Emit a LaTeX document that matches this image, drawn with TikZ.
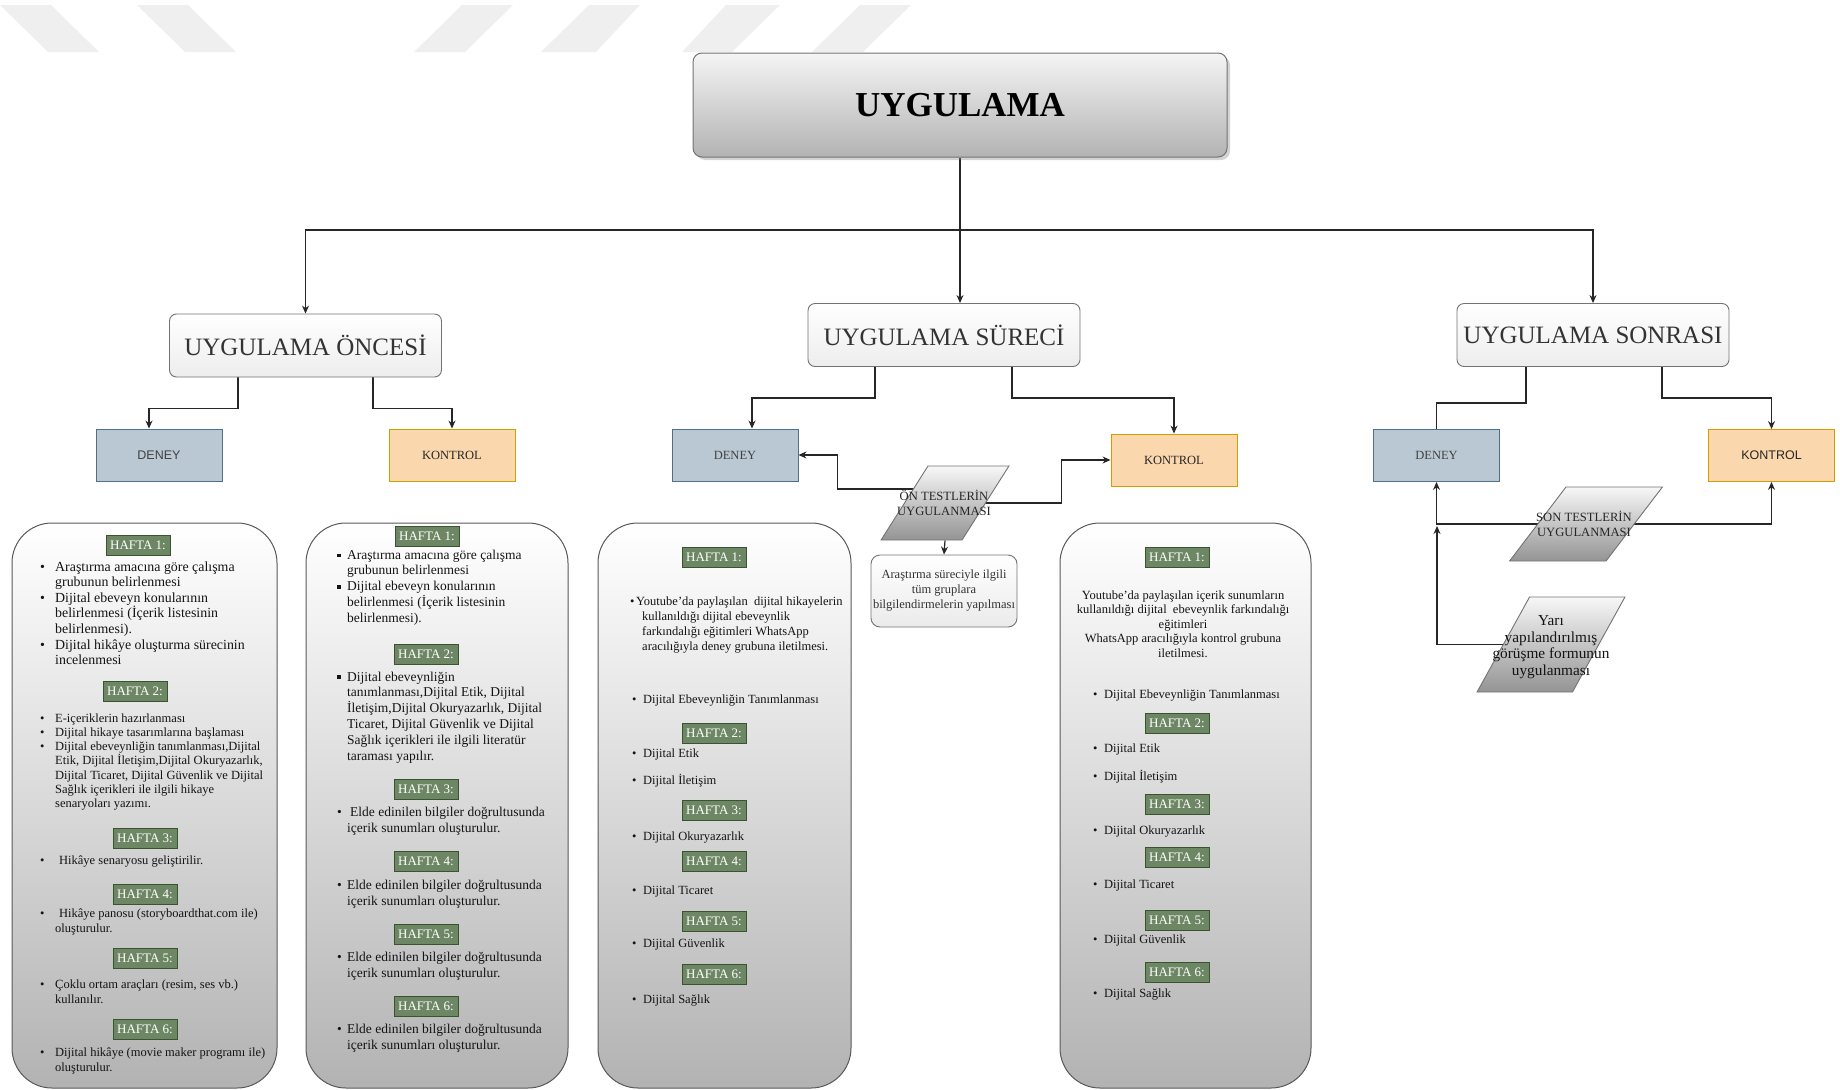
\documentclass[tikz,border=0pt]{standalone}
\usepackage{fontspec}
\setmainfont{Liberation Serif}
\newfontfamily\sansfont{Liberation Sans}
\usetikzlibrary{shapes.geometric,arrows.meta,shadows,backgrounds}
\definecolor{dgf}{HTML}{BAC8D3}
\definecolor{dgd}{HTML}{4F6F8A}
\definecolor{kof}{HTML}{FAD7AC}
\definecolor{kod}{HTML}{D79B00}
\definecolor{hg}{HTML}{6D8764}
\definecolor{hgd}{HTML}{3A5431}
\definecolor{wmc}{HTML}{EFEFEF}
\newcommand\fs[2]{\fontsize{#1}{#2}\selectfont}
\newcommand\bu{\makebox[15pt][l]{\textbullet}}
\newcommand\ind{\hspace*{15pt}}
\newcommand\sqb{\makebox[10pt][l]{\raisebox{2pt}{\rule{3.6pt}{3.6pt}}}}
\newcommand\bus{\makebox[11pt][l]{\textbullet}}
\newcommand\inds{\hspace*{11pt}}
\begin{document}
\begin{tikzpicture}[x=1pt,y=-1pt,
  conn/.style={line width=1.2pt, draw=black!85},
  arr/.style={conn, -{Stealth[length=8pt,width=7pt]}},
  topbox/.style={draw=black!55, line width=1pt, rounded corners=9pt, top color=black!4, bottom color=black!30,
     minimum width=534, minimum height=104, font=\bfseries\fs{35}{40},
     drop shadow={opacity=0.35,shadow xshift=3pt,shadow yshift=-3pt}},
  phase/.style={draw=black!55, line width=0.9pt, rounded corners=7pt, top color=white, bottom color=black!7,
     minimum width=272, minimum height=63, font=\fs{25}{30}, text=black!80},
  grpd/.style={draw=dgd, fill=dgf, line width=0.9pt, minimum width=126, minimum height=52, text=black!75},
  grpk/.style={draw=kod, fill=kof, line width=0.9pt, minimum width=126, minimum height=52, text=black!85},
  bigbox/.style={draw=black!65, line width=1pt, rounded corners=40pt, top color=white, bottom color=black!30,
     minimum width=#1, minimum height=565, inner sep=0pt},
  hafta/.style={draw=hgd, fill=hg, text=white, font=\fs{13}{15}, minimum width=64, minimum height=20, inner sep=1.5pt},
  txt/.style={anchor=base west, align=left, inner sep=0pt, text=black!92},
  ctxt/.style={anchor=base, align=center, inner sep=0pt, text=black!92},
  para/.style={trapezium, trapezium left angle=#1, trapezium right angle=180-#1, trapezium stretches=true,
     draw=black!55, line width=0.9pt, top color=black!3, bottom color=black!42, inner sep=2pt},
  note/.style={draw=black!55, line width=0.9pt, rounded corners=9pt, top color=white, bottom color=black!8,
     minimum width=146, minimum height=72, align=center, inner sep=1pt, font=\fs{12.5}{15}, text=black!80},
  wm/.style={fill=wmc}
]
\useasboundingbox (0,0) rectangle (1840,1090);

% top watermark stripes
\begin{scope}[on background layer]
\fill[wm] (0,5) -- (51,5) -- (99,52) -- (48,52) -- cycle;
\fill[wm] (137,5) -- (188,5) -- (236,52) -- (185,52) -- cycle;
\fill[wm] (462,5) -- (513,5) -- (465,52) -- (414,52) -- cycle;
\fill[wm] (589,5) -- (640,5) -- (596,52) -- (541,52) -- cycle;
\fill[wm] (726,5) -- (780,5) -- (732,52) -- (682,52) -- cycle;
\fill[wm] (860,5) -- (911,5) -- (863,52) -- (812,52) -- cycle;
\end{scope}

% main boxes
\node[topbox] (top) at (960,105) {UYGULAMA};
\node[phase] (once) at (305.5,345.5) {UYGULAMA ÖNCESİ};
\node[phase] (surec) at (944,335) {UYGULAMA SÜRECİ};
\node[phase] (sonra) at (1593,335) {UYGULAMA SONRASI};

\node[grpd, font=\sansfont\fs{12.5}{14}] (deney1) at (159,455) {DENEY};
\node[grpk, draw=black!20!kod!70!yellow, font=\fs{12.5}{14}] (kontrol1) at (452,455) {KONTROL};
\node[grpd, font=\fs{12.5}{14}] (deney2) at (735,455) {DENEY};
\node[grpk, font=\fs{12.5}{14}] (kontrol2) at (1174,460) {KONTROL};
\node[grpd, font=\fs{12.5}{14}] (deney3) at (1436.5,455.5) {DENEY};
\node[grpk, font=\sansfont\fs{12.5}{14}] (kontrol3) at (1771.5,455.5) {KONTROL};

% parallelograms and note
\node[para=71, minimum width=128, minimum height=74] (ontest) at (945,503) {\strut};
\node[ctxt, font=\fs{12.6}{15}, text=black!85] (ontestt) at (944,515) {ÖN TESTLERİN\\UYGULANMASI};
\node[note] (bilgi) at (944,591) {Araştırma süreciyle ilgili\\tüm gruplara\\bilgilendirmelerin yapılması};
\node[para=70.6, minimum width=153, minimum height=74] (sontest) at (1586,524) {\strut};
\node[ctxt, font=\fs{12.6}{15}, text=black!85] (sontestt) at (1584,536) {SON TESTLERİN\\UYGULANMASI};
\node[para=73, minimum width=148, minimum height=95] (yari) at (1551,644.5) {\strut};
\node[ctxt, font=\fs{15.3}{16.7}] (yarit) at (1551,675.5) {Yarı\\yapılandırılmış\\görüşme formunun\\uygulanması};

% content boxes
\node[bigbox=265] (box1) at (144.5,805.5) {};
\node[bigbox=262] (box2) at (437,805.5) {};
\node[bigbox=253] (box3) at (724.5,805.5) {};
\node[bigbox=251] (box4) at (1185.5,805.5) {};

% ---- box 1
\node[hafta] (b1h1) at (138,545) {HAFTA 1:};
\node[txt, font=\fs{13.9}{15.6}] (b1t1) at (40,664.6) {\bu Araştırma amacına göre çalışma\\\ind grubunun belirlenmesi\\\bu Dijital ebeveyn konularının\\\ind belirlenmesi (İçerik listesinin\\\ind belirlenmesi).\\\bu Dijital hikâye oluşturma sürecinin\\\ind incelenmesi};
\node[hafta] (b1h2) at (135,691) {HAFTA 2:};
\node[txt, font=\fs{12.5}{14.3}] (b1t2) at (40,807.8) {\bu E-içeriklerin hazırlanması\\\bu Dijital hikaye tasarımlarına başlaması\\\bu Dijital ebeveynliğin tanımlanması,Dijital\\\ind Etik, Dijital İletişim,Dijital Okuryazarlık,\\\ind Dijital Ticaret, Dijital Güvenlik ve Dijital\\\ind Sağlık içerikleri ile ilgili hikaye\\\ind senaryoları yazımı.};
\node[hafta] (b1h3) at (145,838) {HAFTA 3:};
\node[txt, font=\fs{12.5}{14.5}] (b1t3) at (40,864) {\bu\hspace{4pt}Hikâye senaryosu geliştirilir.};
\node[hafta] (b1h4) at (145,894) {HAFTA 4:};
\node[txt, font=\fs{12.5}{14.5}] (b1t4) at (40,932) {\bu\hspace{4pt}Hikâye panosu (storyboardthat.com ile)\\\ind oluşturulur.};
\node[hafta] (b1h5) at (145,958) {HAFTA 5:};
\node[txt, font=\fs{12.5}{14.5}] (b1t5) at (40,1003) {\bu Çoklu ortam araçları (resim, ses vb.)\\\ind kullanılır.};
\node[hafta] (b1h6) at (145,1029) {HAFTA 6:};
\node[txt, font=\fs{12.5}{14.5}] (b1t6) at (40,1071) {\bu Dijital hikâye (movie maker programı ile)\\\ind oluşturulur.};

% ---- box 2
\node[hafta] (b2h1) at (427,536) {HAFTA 1:};
\node[txt, font=\fs{13.5}{15.7}] (b2t1) at (337,622) {\sqb Araştırma amacına göre çalışma\\\hspace*{10pt}grubunun belirlenmesi\\\sqb Dijital ebeveyn konularının\\\hspace*{10pt}belirlenmesi (İçerik listesinin\\\hspace*{10pt}belirlenmesi).};
\node[hafta] (b2h2) at (426,654) {HAFTA 2:};
\node[txt, font=\fs{13.5}{15.8}] (b2t2) at (337,760) {\sqb Dijital ebeveynliğin\\\hspace*{10pt}tanımlanması,Dijital Etik, Dijital\\\hspace*{10pt}İletişim,Dijital Okuryazarlık, Dijital\\\hspace*{10pt}Ticaret, Dijital Güvenlik ve Dijital\\\hspace*{10pt}Sağlık içerikleri ile ilgili literatür\\\hspace*{10pt}taraması yapılır.};
\node[hafta] (b2h3) at (426,789) {HAFTA 3:};
\node[txt, font=\fs{13.5}{15.8}] (b2t3) at (337,832) {\makebox[10pt][l]{\textbullet}\hspace{3pt}Elde edinilen bilgiler doğrultusunda\\\hspace*{10pt}içerik sunumları oluşturulur.};
\node[hafta] (b2h4) at (426,861) {HAFTA 4:};
\node[txt, font=\fs{13.5}{15.8}] (b2t4) at (337,905) {\makebox[10pt][l]{\textbullet}Elde edinilen bilgiler doğrultusunda\\\hspace*{10pt}içerik sunumları oluşturulur.};
\node[hafta] (b2h5) at (426,934) {HAFTA 5:};
\node[txt, font=\fs{13.5}{15.8}] (b2t5) at (337,977) {\makebox[10pt][l]{\textbullet}Elde edinilen bilgiler doğrultusunda\\\hspace*{10pt}içerik sunumları oluşturulur.};
\node[hafta] (b2h6) at (426,1006) {HAFTA 6:};
\node[txt, font=\fs{13.5}{15.8}] (b2t6) at (337,1049) {\makebox[10pt][l]{\textbullet}Elde edinilen bilgiler doğrultusunda\\\hspace*{10pt}içerik sunumları oluşturulur.};

% ---- box 3
\node[hafta] (b3h1) at (714,557) {HAFTA 1:};
\node[txt, font=\fs{12.5}{15}] (b3t1) at (630,650) {\makebox[6pt][l]{\textbullet}Youtube'da paylaşılan\ \ dijital hikayelerin\\\hspace*{12pt}kullanıldığı dijital ebeveynlik\\\hspace*{12pt}farkındalığı eğitimleri WhatsApp\\\hspace*{12pt}aracılığıyla deney grubuna iletilmesi.};
\node[txt, font=\fs{12.5}{15}] (b3t1b) at (632,703) {\bus Dijital Ebeveynliğin Tanımlanması};
\node[hafta] (b3h2) at (714,733) {HAFTA 2:};
\node[txt, font=\fs{12.5}{15}] (b3t2a) at (632,757) {\bus Dijital Etik};
\node[txt, font=\fs{12.5}{15}] (b3t2b) at (632,784) {\bus Dijital İletişim};
\node[hafta] (b3h3) at (714,810) {HAFTA 3:};
\node[txt, font=\fs{12.5}{15}] (b3t3) at (632,840) {\bus Dijital Okuryazarlık};
\node[hafta] (b3h4) at (714,861) {HAFTA 4:};
\node[txt, font=\fs{12.5}{15}] (b3t4) at (632,894) {\bus Dijital Ticaret};
\node[hafta] (b3h5) at (714,921) {HAFTA 5:};
\node[txt, font=\fs{12.5}{15}] (b3t5) at (632,947) {\bus Dijital Güvenlik};
\node[hafta] (b3h6) at (714,974) {HAFTA 6:};
\node[txt, font=\fs{12.5}{15}] (b3t6) at (632,1003) {\bus Dijital Sağlık};

% ---- box 4
\node[hafta] (b4h1) at (1177,557) {HAFTA 1:};
\node[ctxt, font=\fs{12.5}{14.5}] (b4t1) at (1183,657) {Youtube'da paylaşılan içerik sunumların\\kullanıldığı dijital\ \ ebeveynlik farkındalığı\\eğitimleri\\WhatsApp aracılığıyla kontrol grubuna\\iletilmesi.};
\node[txt, font=\fs{12.5}{15}] (b4t1b) at (1093,698) {\bus Dijital Ebeveynliğin Tanımlanması};
\node[hafta] (b4h2) at (1177,723) {HAFTA 2:};
\node[txt, font=\fs{12.5}{15}] (b4t2a) at (1093,752) {\bus Dijital Etik};
\node[txt, font=\fs{12.5}{15}] (b4t2b) at (1093,780) {\bus Dijital İletişim};
\node[hafta] (b4h3) at (1177,804) {HAFTA 3:};
\node[txt, font=\fs{12.5}{15}] (b4t3) at (1093,834) {\bus Dijital Okuryazarlık};
\node[hafta] (b4h4) at (1177,857) {HAFTA 4:};
\node[txt, font=\fs{12.5}{15}] (b4t4) at (1093,888) {\bus Dijital Ticaret};
\node[hafta] (b4h5) at (1177,920) {HAFTA 5:};
\node[txt, font=\fs{12.5}{15}] (b4t5) at (1093,943) {\bus Dijital Güvenlik};
\node[hafta] (b4h6) at (1177,972) {HAFTA 6:};
\node[txt, font=\fs{12.5}{15}] (b4t6) at (1093,997) {\bus Dijital Sağlık};

% ---- connectors
\coordinate (jn) at (960,230);
\coordinate (jy) at (1437,526);
\begin{scope}[on background layer]
\draw[conn] (top.south) -- (jn);
\draw[arr] (jn) -- (jn |- surec.north);
\draw[arr] (jn) -| (once.north);
\draw[arr] (jn) -| (sonra.north);

\draw[arr] ([xshift=-67.5pt]once.south) -- ++(0,31) -| ([xshift=-10pt]deney1.north);
\draw[arr] ([xshift=67.5pt]once.south) -- ++(0,31) -| (kontrol1.north);

\draw[arr] ([xshift=-69pt]surec.south) -- ++(0,31) -| ([xshift=17pt]deney2.north);
\draw[arr] ([xshift=68pt]surec.south) -- ++(0,31) -| (kontrol2.north);

\draw[conn] ([xshift=-67pt]sonra.south) -- ++(0,36) -| (deney3.north);
\draw[arr] ([xshift=69pt]sonra.south) -- ++(0,31) -| (kontrol3.north);

\draw[arr] ([yshift=14pt]ontest.center) -| ([xshift=39pt]deney2.east) -- (deney2.east);
\draw[arr] (ontest.center) -| ([xshift=-49pt]kontrol2.west) -- (kontrol2.west);
\draw[arr] (ontest.south) -- (bilgi.north);

\draw[arr] (sontest.center) -| (deney3.south);
\draw[arr] (sontest.center) -| (kontrol3.south);
\draw[arr] (yari.center) -| (jy);
\end{scope}
\end{tikzpicture}
\end{document}
